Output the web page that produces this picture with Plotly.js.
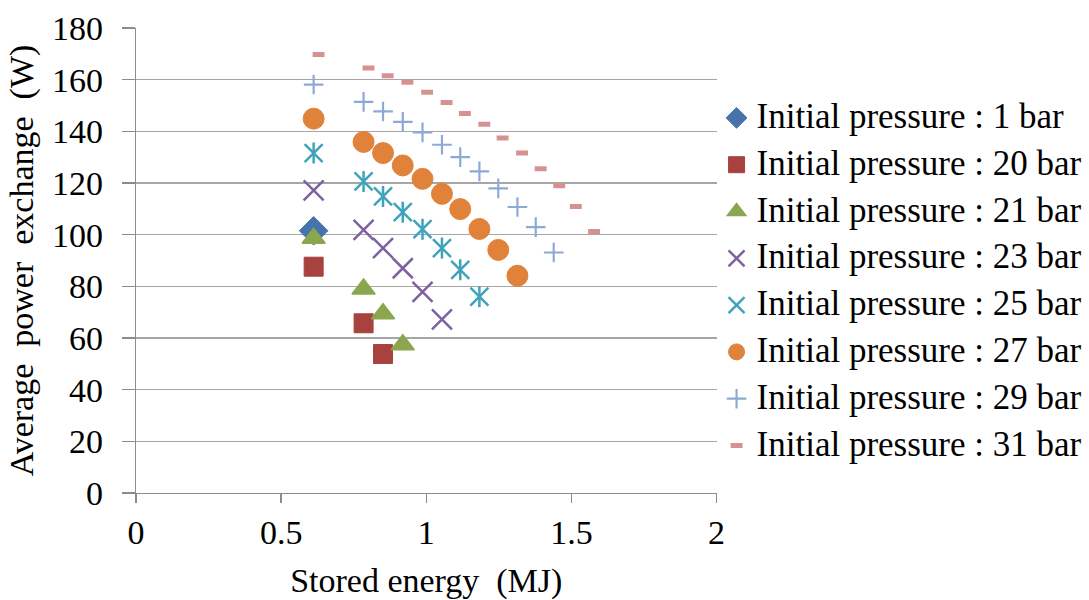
<!DOCTYPE html>
<html>
<head>
<meta charset="utf-8">
<script src="https://cdn.plot.ly/plotly-3.0.1.min.js"></script>
<style>html,body{margin:0;padding:0;background:#fff;}#chart{width:1089px;height:600px;}</style>
</head>
<body>
<div id="chart"></div>
<script>
// Data
var seriesNames = [
  "Initial pressure : 1 bar",
  "Initial pressure : 20 bar",
  "Initial pressure : 21 bar",
  "Initial pressure : 23 bar",
  "Initial pressure : 25 bar",
  "Initial pressure : 27 bar",
  "Initial pressure : 29 bar",
  "Initial pressure : 31 bar"
];
var x1bar  = [0.612];
var y1bar  = [101.5];
var x20bar = [0.612, 0.784, 0.851];
var y20bar = [87.6, 65.7, 53.8];
var x21bar = [0.612, 0.784, 0.851, 0.919];
var y21bar = [98.6, 79.0, 69.4, 57.4];
var x23bar = [0.612, 0.784, 0.851, 0.919, 0.987, 1.054];
var y23bar = [117.1, 101.9, 94.8, 87.0, 77.9, 67.2];
var x25bar = [0.612, 0.784, 0.851, 0.919, 0.987, 1.054, 1.117, 1.183];
var y25bar = [131.6, 120.6, 114.8, 108.7, 102.1, 94.8, 86.4, 76.0];
var x27bar = [0.612, 0.784, 0.851, 0.919, 0.987, 1.054, 1.117, 1.183, 1.248, 1.314];
var y27bar = [144.9, 135.9, 131.6, 126.8, 121.6, 115.8, 109.9, 102.2, 94.1, 84.1];
var x29bar = [0.612, 0.784, 0.851, 0.919, 0.987, 1.054, 1.117, 1.183, 1.248, 1.314, 1.377, 1.439];
var y29bar = [158.1, 151.4, 147.7, 143.7, 139.6, 134.8, 130.0, 124.5, 117.9, 110.7, 102.9, 93.1];
var x31bar = [0.629, 0.801, 0.867, 0.935, 1.003, 1.070, 1.133, 1.200, 1.263, 1.330, 1.394, 1.458, 1.515, 1.578];
var y31bar = [169.7, 164.5, 161.5, 159.0, 155.1, 151.2, 146.9, 142.7, 137.4, 131.6, 125.5, 118.9, 110.9, 101.2];

var xTickVals = [0, 0.5, 1, 1.5, 2];
var xTickText = ["0", "0.5", "1", "1.5", "2"];
var yTickVals = [0, 20, 40, 60, 80, 100, 120, 140, 160, 180];

var FONT = 'Liberation Serif, Times New Roman, serif';

function legendLabel(s) {
  return '<span style="font-size:35px">' + s + '</span>';
}

function sc(x, y, name, marker, extra) {
  var t = {type: 'scatter', mode: 'markers', x: x, y: y, name: legendLabel(name), marker: marker, hoverinfo: 'x+y'};
  if (extra) for (var k in extra) t[k] = extra[k];
  return t;
}

var traces = [
  sc(x1bar, y1bar, seriesNames[0], {symbol: 'diamond', size: 22, color: '#4673AB', line: {color: '#4673AB', width: 1}}),
  sc(x20bar, y20bar, seriesNames[1], {symbol: 'square', size: 19, color: '#A8423F', line: {color: '#A8423F', width: 1}}),
  sc(x21bar, y21bar, seriesNames[2], {symbol: 'triangle-up', size: 20, color: '#8AA64F', line: {color: '#8AA64F', width: 1.5}}),
  sc(x23bar, y23bar, seriesNames[3], {symbol: 'x-thin-open', size: 20, color: '#7E61A0', line: {color: '#7E61A0', width: 2.5}}),
  sc(x25bar, y25bar, seriesNames[4], {symbol: 'x-thin-open', size: 18, color: '#3FA3BB', line: {color: '#3FA3BB', width: 2.5}}, {legendgroup: 'g25'}),
  sc(x25bar, y25bar, seriesNames[4], {symbol: 'line-ns-open', size: 15, color: '#3FA3BB', line: {color: '#3FA3BB', width: 2.5}}, {legendgroup: 'g25', showlegend: false}),
  sc(x27bar, y27bar, seriesNames[5], {symbol: 'circle', size: 21, color: '#E0823A', line: {color: '#E0823A', width: 1}}),
  sc(x29bar, y29bar, seriesNames[6], {symbol: 'cross-thin-open', size: 14, color: '#8DA9D6', line: {color: '#8DA9D6', width: 2.2}}),
  sc(x31bar, y31bar, seriesNames[7], {symbol: 'line-ew-open', size: 8.5, color: '#D69290', line: {color: '#D69290', width: 5}})
];

var layout = {
  width: 1089,
  height: 600,
  margin: {l: 136, r: 372, t: 28, b: 107, pad: 0},
  paper_bgcolor: '#ffffff',
  plot_bgcolor: '#ffffff',
  font: {family: FONT, size: 34, color: '#000000'},
  showlegend: true,
  legend: {
    xref: 'container', yref: 'paper',
    x: 0.658, y: 0.857, xanchor: 'left', yanchor: 'top',
    font: {family: FONT, size: 26, color: '#000000'},
    bgcolor: 'rgba(0,0,0,0)', borderwidth: 0,
    itemsizing: 'trace'
  },
  xaxis: {
    range: [0, 2],
    tickvals: xTickVals, ticktext: xTickText,
    ticks: 'outside', ticklen: 9, tickwidth: 1.3, tickcolor: '#8C8C8C',
    showline: true, linecolor: '#8C8C8C', linewidth: 1.3,
    showgrid: false, zeroline: false,
    tickfont: {family: FONT, size: 34, color: '#000'},
    title: {text: 'Stored energy  (MJ)', font: {family: FONT, size: 34, color: '#000'}, standoff: 18},
    fixedrange: true
  },
  yaxis: {
    range: [0, 180],
    tickvals: yTickVals,
    ticks: 'outside', ticklen: 13, tickwidth: 1.3, tickcolor: '#8C8C8C',
    ticklabelstandoff: 12,
    showline: true, linecolor: '#8C8C8C', linewidth: 1.3,
    showgrid: true, gridcolor: '#A6A6A6', gridwidth: 1.3,
    zeroline: false,
    tickfont: {family: FONT, size: 34, color: '#000'},
    title: {text: 'Average  power  exchange  (W)', font: {family: FONT, size: 34, color: '#000'}, standoff: 8},
    fixedrange: true
  }
};

Plotly.newPlot('chart', traces, layout, {displayModeBar: false, staticPlot: true});
</script>
</body>
</html>
